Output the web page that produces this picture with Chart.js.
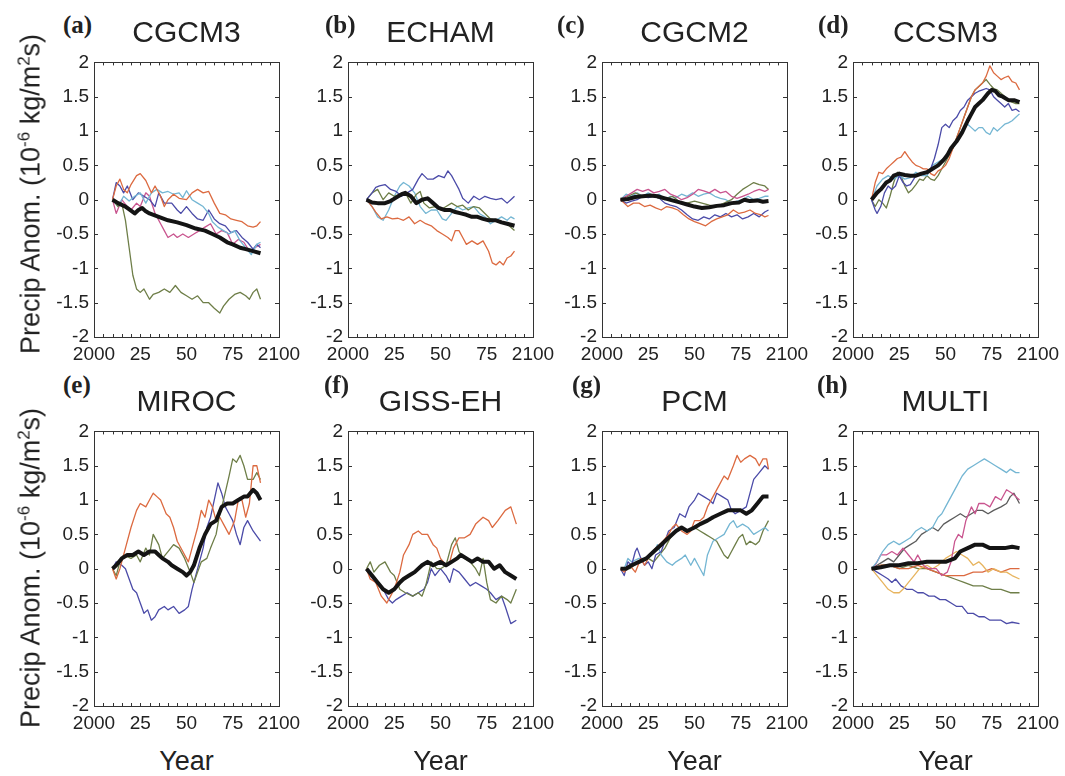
<!DOCTYPE html>
<html>
<head>
<meta charset="utf-8">
<script src="https://cdn.jsdelivr.net/npm/chart.js@4.4.1/dist/chart.umd.min.js"></script>
<style>
  html, body { margin: 0; padding: 0; background: #fff; }
  body { width: 1065px; height: 776px; position: relative; overflow: hidden; }
  canvas { position: absolute; }
  .txt { position: absolute; white-space: nowrap; color: #222; font-family: "Liberation Sans", Arial, sans-serif; }
  .title { font-size: 30px; line-height: 30px; text-align: center; width: 200px; }
  .letter { font-family: "Liberation Serif", "Times New Roman", serif; font-weight: bold; font-size: 25px; line-height: 25px; }
  .ylab { font-size: 27px; line-height: 27px; width: 340px; text-align: center; transform: translate(-50%, -50%) rotate(-90deg); }
  .ylab sup { font-size: 17px; vertical-align: 10px; line-height: 0; }
  .xlab { font-size: 27px; line-height: 27px; width: 120px; text-align: center; }
</style>
</head>
<body>
<script>
// ── series colours ──
const RED = "#dc6a40", BLUE = "#4b4ba8", CYAN = "#74b6d3", OLIVE = "#6e7e48",
      MAGENTA = "#c9558f", YELLOW = "#e7b45e", GRAY = "#5c5c5c", BLACK = "#141414";

// ── axis ticks ──
const xTicks = [2000, 2025, 2050, 2075, 2100];
const xTickLabels = ["2000", "25", "50", "75", "2100"];
const yTicks = [-2, -1.5, -1, -0.5, 0, 0.5, 1, 1.5, 2];

// ── (a) CGCM3 ──
const cgcm3Mean = [[2010,0],[2013,-0.05],[2017,-0.1],[2020,-0.16],[2022,-0.2],[2024,-0.15],[2026,-0.12],[2028,-0.17],[2030,-0.2],[2035,-0.25],[2040,-0.3],[2045,-0.33],[2050,-0.37],[2055,-0.42],[2060,-0.45],[2064,-0.5],[2068,-0.55],[2072,-0.62],[2075,-0.65],[2079,-0.7],[2082,-0.72],[2086,-0.75],[2090,-0.78]];
const cgcm3Olive = [[2010,0],[2013,-0.1],[2015,-0.05],[2017,-0.3],[2019,-0.7],[2021,-1.1],[2023,-1.3],[2025,-1.35],[2027,-1.3],[2030,-1.45],[2032,-1.38],[2035,-1.35],[2038,-1.3],[2041,-1.35],[2044,-1.25],[2047,-1.35],[2050,-1.4],[2053,-1.45],[2056,-1.4],[2059,-1.5],[2062,-1.5],[2065,-1.58],[2068,-1.65],[2070,-1.55],[2073,-1.45],[2076,-1.38],[2079,-1.35],[2082,-1.4],[2084,-1.45],[2086,-1.35],[2088,-1.3],[2090,-1.45]];
const cgcm3Red = [[2010,0],[2012,0.2],[2014,0.3],[2016,0.15],[2018,0.1],[2020,0.22],[2023,0.35],[2025,0.38],[2028,0.28],[2031,0.1],[2033,0.2],[2036,0.05],[2038,-0.1],[2040,0],[2043,0.08],[2046,0.02],[2050,0],[2053,0.1],[2056,0.15],[2059,0.1],[2062,0.12],[2065,-0.05],[2068,-0.2],[2071,-0.22],[2074,-0.28],[2077,-0.3],[2080,-0.32],[2083,-0.38],[2086,-0.4],[2088,-0.38],[2090,-0.32]];
const cgcm3Cyan = [[2010,0],[2013,-0.1],[2016,0.05],[2019,-0.02],[2022,0.05],[2025,0.1],[2028,-0.05],[2031,0.1],[2034,0.15],[2037,0.1],[2040,0.12],[2043,0.08],[2046,0.1],[2048,0.03],[2050,0.13],[2053,0],[2056,-0.05],[2059,-0.1],[2062,-0.2],[2064,-0.32],[2067,-0.4],[2070,-0.45],[2073,-0.5],[2076,-0.45],[2079,-0.6],[2082,-0.7],[2085,-0.8],[2088,-0.65],[2090,-0.62]];
const cgcm3Blue = [[2010,0],[2012,0.25],[2014,0.2],[2016,0.1],[2018,0.2],[2021,0],[2024,0.1],[2027,0.05],[2030,0],[2033,-0.1],[2035,0.1],[2038,-0.05],[2042,-0.05],[2045,-0.15],[2047,-0.2],[2050,-0.1],[2053,-0.2],[2056,-0.28],[2059,-0.3],[2062,-0.15],[2065,-0.28],[2068,-0.35],[2071,-0.38],[2074,-0.48],[2077,-0.45],[2080,-0.55],[2083,-0.62],[2086,-0.72],[2088,-0.65],[2090,-0.7]];
const cgcm3Magenta = [[2010,0],[2012,-0.2],[2015,0],[2018,-0.1],[2020,-0.15],[2023,-0.05],[2025,-0.1],[2028,0.1],[2030,0.05],[2033,-0.2],[2036,-0.35],[2038,-0.45],[2040,-0.55],[2043,-0.5],[2045,-0.55],[2048,-0.5],[2051,-0.55],[2054,-0.5],[2057,-0.45],[2060,-0.4],[2063,-0.35],[2066,-0.5],[2069,-0.45],[2072,-0.48],[2075,-0.65],[2078,-0.58],[2081,-0.62],[2084,-0.75],[2087,-0.7],[2090,-0.65]];

// ── (b) ECHAM ──
const echamMean = [[2010,0],[2013,-0.04],[2016,-0.05],[2020,-0.05],[2023,-0.02],[2026,0.03],[2029,0.08],[2031,0.1],[2034,0.05],[2037,-0.05],[2040,0],[2043,0.02],[2046,-0.05],[2049,-0.12],[2052,-0.15],[2055,-0.15],[2058,-0.18],[2061,-0.2],[2064,-0.22],[2067,-0.25],[2070,-0.25],[2073,-0.28],[2076,-0.3],[2080,-0.3],[2083,-0.33],[2086,-0.35],[2090,-0.38]];
const echamBlue = [[2010,0],[2013,0.1],[2015,0.18],[2017,0.2],[2020,0.22],[2023,0.15],[2026,0.12],[2029,0.05],[2032,0.1],[2035,0.15],[2038,0.3],[2040,0.38],[2043,0.3],[2046,0.3],[2049,0.35],[2052,0.32],[2054,0.42],[2056,0.35],[2058,0.25],[2060,0.15],[2062,0.02],[2065,-0.05],[2068,0.05],[2071,0],[2074,0.05],[2077,0.02],[2080,0],[2083,0.02],[2086,-0.05],[2088,0],[2090,0.05]];
const echamRed = [[2010,0],[2013,-0.1],[2015,-0.18],[2018,-0.28],[2021,-0.25],[2024,-0.28],[2027,-0.27],[2030,-0.3],[2033,-0.25],[2036,-0.35],[2039,-0.3],[2042,-0.35],[2045,-0.38],[2048,-0.45],[2051,-0.5],[2054,-0.55],[2056,-0.6],[2058,-0.45],[2060,-0.45],[2062,-0.55],[2064,-0.65],[2067,-0.6],[2070,-0.65],[2073,-0.6],[2076,-0.75],[2078,-0.92],[2080,-0.95],[2082,-0.9],[2084,-0.95],[2086,-0.85],[2088,-0.82],[2090,-0.75]];
const echamOlive = [[2010,0],[2013,0.1],[2016,0.15],[2019,0],[2022,0.1],[2025,0.05],[2028,0.08],[2031,0.1],[2034,-0.05],[2037,0.08],[2039,0.12],[2041,-0.05],[2044,-0.12],[2047,-0.1],[2050,-0.15],[2053,-0.1],[2056,-0.05],[2059,-0.1],[2062,-0.08],[2065,-0.15],[2068,-0.1],[2071,-0.12],[2074,-0.2],[2077,-0.28],[2080,-0.3],[2083,-0.32],[2086,-0.35],[2088,-0.4],[2090,-0.45]];
const echamCyan = [[2010,0],[2013,-0.1],[2016,-0.25],[2019,-0.3],[2022,-0.15],[2025,0.05],[2028,0.2],[2030,0.25],[2033,0.2],[2036,0.1],[2039,-0.1],[2042,-0.2],[2045,-0.15],[2048,-0.15],[2051,-0.28],[2053,-0.3],[2056,-0.2],[2059,-0.1],[2062,-0.15],[2065,-0.12],[2068,-0.1],[2071,-0.2],[2074,-0.25],[2077,-0.35],[2080,-0.3],[2083,-0.25],[2086,-0.3],[2088,-0.25],[2090,-0.28]];

// ── (c) CGCM2 ──
const cgcm2Mean = [[2010,0],[2014,0.01],[2018,0.04],[2022,0.05],[2026,0.06],[2030,0.05],[2034,0.02],[2038,-0.01],[2042,-0.04],[2046,-0.07],[2050,-0.1],[2054,-0.12],[2058,-0.11],[2062,-0.09],[2066,-0.08],[2070,-0.05],[2074,-0.04],[2077,0],[2080,-0.02],[2084,-0.01],[2087,-0.03],[2090,-0.02]];
const cgcm2Magenta = [[2010,0],[2013,0.05],[2016,0.1],[2019,0.15],[2022,0.12],[2025,0.15],[2028,0.1],[2031,0.12],[2034,0.15],[2037,0.08],[2040,0.05],[2043,0],[2046,0.03],[2049,0.08],[2052,0.15],[2055,0.13],[2058,0.1],[2061,0.15],[2064,0.1],[2067,0.12],[2070,0.05],[2073,0.02],[2076,0.05],[2079,0.08],[2082,0.12],[2085,0.15],[2088,0.12],[2090,0.15]];
const cgcm2Olive = [[2010,0],[2014,0.05],[2018,0.1],[2022,0.05],[2026,0.07],[2030,0.03],[2034,0],[2038,0.05],[2042,-0.03],[2046,-0.05],[2050,-0.02],[2054,-0.05],[2058,-0.08],[2062,-0.1],[2066,-0.05],[2070,0],[2073,0.08],[2076,0.15],[2079,0.2],[2082,0.25],[2085,0.22],[2088,0.2],[2090,0.15]];
const cgcm2Cyan = [[2010,0],[2013,0.08],[2016,0.05],[2019,0.1],[2022,0.05],[2025,0.1],[2028,0.05],[2031,0.08],[2034,0],[2037,0.05],[2040,0.03],[2043,0.08],[2046,0.05],[2049,0.1],[2052,0.05],[2055,0.08],[2058,0.1],[2061,0.05],[2064,0.02],[2067,0],[2070,-0.05],[2073,-0.02],[2076,0],[2079,0.05],[2082,0],[2085,0.02],[2088,0.05],[2090,0.05]];
const cgcm2Red = [[2010,0],[2012,-0.05],[2014,-0.1],[2017,-0.05],[2020,-0.05],[2023,-0.1],[2026,-0.08],[2029,-0.12],[2032,-0.15],[2035,-0.1],[2038,-0.12],[2041,-0.15],[2044,-0.22],[2047,-0.28],[2050,-0.32],[2053,-0.35],[2056,-0.38],[2059,-0.32],[2062,-0.28],[2065,-0.25],[2068,-0.22],[2071,-0.15],[2074,-0.2],[2077,-0.18],[2080,-0.15],[2083,-0.2],[2086,-0.22],[2088,-0.25],[2090,-0.23]];
const cgcm2Blue = [[2010,0],[2013,-0.05],[2016,-0.02],[2019,0],[2022,0.05],[2025,0.03],[2028,0.05],[2031,0.02],[2034,-0.05],[2037,-0.08],[2040,-0.1],[2043,-0.15],[2046,-0.22],[2049,-0.28],[2052,-0.3],[2055,-0.25],[2058,-0.28],[2061,-0.22],[2064,-0.25],[2067,-0.2],[2070,-0.25],[2073,-0.22],[2076,-0.28],[2079,-0.25],[2082,-0.2],[2085,-0.25],[2088,-0.18],[2090,-0.15]];

// ── (d) CCSM3 ──
const ccsm3Mean = [[2010,0],[2013,0.1],[2015,0.15],[2018,0.25],[2020,0.28],[2022,0.35],[2025,0.38],[2028,0.36],[2031,0.35],[2034,0.35],[2037,0.38],[2040,0.4],[2043,0.45],[2046,0.5],[2049,0.58],[2051,0.65],[2053,0.75],[2056,0.85],[2059,0.98],[2062,1.15],[2064,1.25],[2066,1.35],[2068,1.4],[2070,1.45],[2073,1.55],[2075,1.6],[2077,1.58],[2079,1.52],[2081,1.5],[2084,1.45],[2087,1.45],[2090,1.42]];
const ccsm3Red = [[2010,0],[2012,0.25],[2014,0.4],[2016,0.38],[2018,0.45],[2020,0.5],[2022,0.55],[2024,0.6],[2026,0.62],[2028,0.7],[2030,0.62],[2032,0.55],[2034,0.5],[2036,0.48],[2038,0.45],[2040,0.45],[2042,0.38],[2044,0.35],[2046,0.42],[2048,0.45],[2050,0.5],[2052,0.6],[2054,0.75],[2056,0.9],[2058,1.05],[2060,1.2],[2062,1.35],[2064,1.5],[2066,1.6],[2068,1.65],[2070,1.7],[2072,1.8],[2074,1.95],[2076,1.85],[2078,1.8],[2080,1.75],[2082,1.78],[2084,1.8],[2086,1.72],[2088,1.7],[2090,1.6]];
const ccsm3Blue = [[2010,0],[2012,-0.15],[2013,-0.2],[2015,-0.1],[2017,0.1],[2019,0.2],[2021,0.15],[2023,0.2],[2025,0.35],[2027,0.25],[2029,0.2],[2031,0.22],[2034,0.35],[2037,0.38],[2040,0.4],[2042,0.45],[2044,0.6],[2046,0.8],[2048,1.05],[2050,1.1],[2052,1.05],[2054,1.15],[2056,1.2],[2058,1.3],[2060,1.35],[2062,1.45],[2064,1.5],[2066,1.55],[2068,1.58],[2070,1.6],[2072,1.62],[2074,1.6],[2076,1.5],[2078,1.45],[2080,1.4],[2082,1.35],[2084,1.4],[2086,1.3],[2088,1.32],[2090,1.28]];
const ccsm3Cyan = [[2010,0],[2013,0.2],[2016,0.3],[2019,0.35],[2022,0.3],[2025,0.35],[2028,0.3],[2031,0.32],[2034,0.4],[2037,0.35],[2040,0.35],[2043,0.5],[2046,0.55],[2049,0.6],[2052,0.7],[2055,0.8],[2057,0.9],[2060,1.05],[2062,1.1],[2064,1.05],[2066,1],[2068,1.05],[2070,1.05],[2072,0.98],[2074,0.95],[2076,1.05],[2078,1],[2080,1.05],[2082,1.1],[2084,1.12],[2086,1.15],[2088,1.2],[2090,1.25]];
const ccsm3Olive = [[2010,0],[2012,-0.1],[2014,0],[2016,-0.05],[2018,-0.12],[2020,0.05],[2022,0.25],[2024,0.4],[2026,0.35],[2028,0.2],[2030,0.1],[2032,0.15],[2034,0.22],[2036,0.3],[2038,0.28],[2040,0.35],[2042,0.3],[2044,0.28],[2046,0.35],[2048,0.45],[2050,0.55],[2052,0.65],[2054,0.75],[2056,0.9],[2058,1.05],[2060,1.2],[2062,1.35],[2064,1.5],[2066,1.6],[2068,1.65],[2070,1.7],[2072,1.75],[2074,1.68],[2076,1.62],[2078,1.6],[2080,1.55],[2082,1.5],[2084,1.45],[2086,1.42],[2088,1.4],[2090,1.4]];

// ── (e) MIROC ──
const mirocMean = [[2010,0],[2012,0.05],[2015,0.15],[2018,0.2],[2021,0.2],[2024,0.25],[2027,0.2],[2030,0.25],[2033,0.25],[2035,0.2],[2037,0.15],[2040,0.1],[2042,0.05],[2045,0],[2048,-0.05],[2050,-0.1],[2052,-0.05],[2054,0.05],[2057,0.3],[2060,0.5],[2063,0.65],[2066,0.7],[2069,0.9],[2072,0.95],[2075,0.95],[2078,1],[2081,1.05],[2083,1.05],[2086,1.15],[2088,1.1],[2090,1]];
const mirocRed = [[2010,0],[2012,-0.15],[2014,0],[2017,0.3],[2020,0.6],[2023,0.85],[2025,0.95],[2028,0.9],[2030,1],[2032,1.1],[2034,1.05],[2036,1],[2039,0.8],[2041,0.75],[2043,0.6],[2045,0.4],[2048,0.25],[2051,0.1],[2053,0.3],[2056,0.6],[2058,0.85],[2060,0.75],[2062,1],[2064,0.9],[2066,0.7],[2068,0.75],[2070,0.65],[2073,0.5],[2076,0.7],[2078,1],[2080,1],[2082,0.75],[2084,0.95],[2086,1.5],[2088,1.5],[2090,1.25]];
const mirocOlive = [[2010,0],[2012,-0.1],[2014,0.1],[2016,0.2],[2020,0.15],[2023,0.2],[2025,0.1],[2028,0.3],[2030,0.2],[2032,0.5],[2035,0.35],[2037,0.15],[2040,0.25],[2043,0.35],[2046,0.3],[2049,0.15],[2052,-0.05],[2054,-0.2],[2056,-0.05],[2058,0.1],[2061,0.15],[2063,0.3],[2066,0.5],[2068,0.8],[2070,1],[2073,1.35],[2075,1.6],[2077,1.55],[2079,1.65],[2081,1.5],[2083,1.3],[2086,1.3],[2088,1.4],[2090,1.3]];
const mirocBlue = [[2010,0],[2012,0.1],[2015,0.05],[2017,0],[2019,-0.15],[2021,-0.3],[2023,-0.35],[2025,-0.5],[2027,-0.65],[2029,-0.6],[2031,-0.75],[2033,-0.7],[2035,-0.6],[2038,-0.55],[2040,-0.6],[2043,-0.55],[2046,-0.65],[2049,-0.6],[2051,-0.55],[2053,-0.3],[2055,-0.1],[2057,0.1],[2059,0.3],[2061,0.6],[2063,0.75],[2065,1],[2067,1.25],[2069,1.1],[2071,0.9],[2073,0.8],[2075,0.7],[2077,0.5],[2079,0.35],[2081,0.6],[2083,0.7],[2086,0.55],[2090,0.4]];

// ── (f) GISS-EH ──
const gissMean = [[2010,0],[2013,-0.1],[2016,-0.2],[2019,-0.3],[2022,-0.35],[2025,-0.3],[2028,-0.2],[2030,-0.15],[2033,-0.1],[2036,-0.05],[2040,0.05],[2043,0.1],[2046,0.05],[2050,0.1],[2053,0.05],[2056,0.1],[2059,0.15],[2061,0.2],[2064,0.15],[2067,0.1],[2070,0.15],[2073,0.1],[2076,0.1],[2079,0],[2082,0.05],[2085,-0.05],[2088,-0.1],[2091,-0.15]];
const gissRed = [[2010,0],[2012,-0.15],[2015,-0.2],[2018,-0.4],[2021,-0.5],[2023,-0.4],[2025,-0.3],[2028,-0.05],[2030,0.2],[2033,0.35],[2035,0.5],[2038,0.55],[2040,0.5],[2043,0.5],[2046,0.35],[2048,0.3],[2050,0.15],[2053,0.05],[2055,0.1],[2057,0.3],[2060,0.45],[2063,0.45],[2066,0.5],[2069,0.65],[2073,0.75],[2076,0.7],[2078,0.6],[2081,0.7],[2085,0.85],[2088,0.9],[2091,0.65]];
const gissOlive = [[2010,0],[2012,0.1],[2014,-0.05],[2017,0.05],[2020,0.1],[2023,-0.05],[2025,-0.1],[2028,-0.3],[2031,-0.35],[2035,-0.4],[2038,-0.35],[2040,-0.4],[2042,-0.25],[2045,0.1],[2048,0],[2050,0],[2053,0.05],[2056,0.35],[2058,0.45],[2060,0.25],[2063,0.15],[2066,0.1],[2069,0],[2071,-0.1],[2073,0.15],[2075,-0.2],[2077,-0.45],[2080,-0.5],[2083,-0.4],[2086,-0.45],[2088,-0.5],[2091,-0.3]];
const gissBlue = [[2010,0],[2012,-0.1],[2015,-0.2],[2018,-0.25],[2020,-0.35],[2022,-0.45],[2024,-0.5],[2026,-0.45],[2029,-0.4],[2032,-0.35],[2035,-0.4],[2038,-0.35],[2041,-0.3],[2043,-0.2],[2045,0],[2047,-0.1],[2050,0],[2053,-0.1],[2055,-0.2],[2057,0],[2060,-0.05],[2063,-0.15],[2066,-0.25],[2069,-0.2],[2072,-0.25],[2075,-0.3],[2077,-0.35],[2080,-0.45],[2083,-0.4],[2085,-0.55],[2088,-0.8],[2091,-0.75]];

// ── (g) PCM ──
const pcmMean = [[2010,0],[2013,0],[2016,0.05],[2020,0.1],[2024,0.15],[2028,0.25],[2032,0.35],[2036,0.45],[2040,0.55],[2043,0.6],[2046,0.55],[2050,0.6],[2053,0.65],[2057,0.7],[2060,0.75],[2064,0.8],[2068,0.85],[2072,0.85],[2075,0.85],[2078,0.8],[2081,0.85],[2084,0.95],[2087,1.05],[2090,1.05]];
const pcmRed = [[2010,0],[2012,-0.05],[2015,0.05],[2018,-0.05],[2021,0.15],[2023,0.05],[2026,0.2],[2029,0.3],[2031,0.35],[2033,0.4],[2036,0.5],[2038,0.6],[2040,0.65],[2043,0.55],[2046,0.5],[2048,0.55],[2050,0.7],[2053,0.7],[2055,0.75],[2057,0.9],[2060,1.05],[2063,1.2],[2066,1.35],[2068,1.3],[2071,1.5],[2073,1.65],[2075,1.55],[2077,1.6],[2080,1.65],[2083,1.6],[2085,1.5],[2087,1.6],[2089,1.6],[2090,1.45]];
const pcmBlue = [[2010,0],[2012,-0.1],[2014,0.1],[2016,0.05],[2018,0.25],[2019,0.3],[2021,0.15],[2023,0.05],[2025,0.1],[2027,0],[2029,0.2],[2032,0.25],[2034,0.4],[2036,0.55],[2039,0.6],[2042,0.8],[2045,0.75],[2047,0.9],[2050,1],[2052,1.1],[2055,1.05],[2058,1],[2060,0.95],[2062,1.1],[2065,1.05],[2068,1],[2070,0.85],[2072,0.8],[2075,0.85],[2078,0.9],[2080,1.1],[2082,1.3],[2085,1.4],[2088,1.5],[2090,1.45]];
const pcmCyan = [[2010,0],[2012,0],[2014,0.15],[2016,0.1],[2020,0.15],[2025,0.15],[2028,0.25],[2030,0.35],[2032,0.2],[2035,0.1],[2038,0.05],[2040,0.1],[2043,0.15],[2045,0.2],[2048,0.05],[2050,0.15],[2052,0.05],[2055,-0.1],[2057,0.2],[2060,0.4],[2063,0.45],[2066,0.5],[2069,0.65],[2071,0.7],[2073,0.6],[2076,0.65],[2079,0.6],[2082,0.5],[2085,0.55],[2088,0.6],[2090,0.55]];
const pcmOlive = [[2010,0],[2015,0],[2020,0.1],[2025,0.15],[2028,0.1],[2031,0.2],[2034,0.3],[2037,0.45],[2040,0.55],[2043,0.6],[2046,0.55],[2050,0.6],[2053,0.55],[2056,0.5],[2059,0.45],[2062,0.4],[2064,0.3],[2066,0.2],[2068,0.15],[2070,0.25],[2072,0.35],[2074,0.45],[2076,0.5],[2078,0.35],[2080,0.4],[2083,0.35],[2085,0.4],[2087,0.55],[2090,0.7]];

// ── (h) MULTI ──
const multiMean = [[2010,0],[2015,0.02],[2020,0.05],[2025,0.05],[2030,0.08],[2035,0.08],[2040,0.1],[2045,0.1],[2050,0.1],[2055,0.15],[2058,0.25],[2062,0.3],[2066,0.35],[2070,0.35],[2074,0.3],[2078,0.3],[2082,0.3],[2086,0.32],[2090,0.3]];
const multiCyan = [[2010,0],[2013,0.1],[2016,0.25],[2019,0.35],[2022,0.4],[2025,0.35],[2028,0.4],[2031,0.45],[2034,0.55],[2037,0.6],[2040,0.55],[2043,0.6],[2046,0.75],[2048,0.8],[2050,0.9],[2053,1.05],[2056,1.2],[2059,1.35],[2062,1.45],[2065,1.5],[2068,1.55],[2071,1.6],[2074,1.55],[2077,1.5],[2080,1.45],[2083,1.4],[2085,1.45],[2088,1.4],[2090,1.4]];
const multiMagenta = [[2010,0],[2012,0.05],[2015,0.2],[2018,0.2],[2021,0.25],[2024,0.2],[2027,0.3],[2030,0.2],[2033,0.1],[2035,0.2],[2038,0.05],[2041,0],[2045,0],[2048,-0.1],[2051,-0.05],[2053,0.1],[2055,0.4],[2057,0.5],[2059,0.45],[2061,0.7],[2064,0.9],[2066,0.8],[2068,0.95],[2071,0.95],[2074,0.9],[2077,1.05],[2080,1],[2083,1.15],[2086,1.1],[2088,1.05],[2090,1]];
const multiGray = [[2010,0],[2013,0.05],[2016,0.1],[2019,0.15],[2022,0.1],[2025,0.2],[2028,0.3],[2031,0.35],[2034,0.4],[2037,0.5],[2040,0.55],[2043,0.6],[2046,0.55],[2049,0.65],[2052,0.7],[2055,0.75],[2058,0.8],[2061,0.75],[2064,0.8],[2067,0.85],[2070,0.85],[2073,0.8],[2076,0.85],[2080,0.9],[2083,0.95],[2085,1.05],[2087,1.1],[2090,0.95]];
const multiYellow = [[2010,0],[2013,-0.1],[2016,-0.2],[2019,-0.3],[2022,-0.35],[2025,-0.35],[2027,-0.3],[2030,-0.2],[2033,-0.1],[2036,0],[2040,0.05],[2043,0],[2046,0.05],[2050,0.15],[2053,0.2],[2056,0.25],[2059,0.2],[2062,0.15],[2065,0.05],[2068,0.1],[2070,0.05],[2073,-0.05],[2076,0],[2080,-0.05],[2083,-0.05],[2086,-0.1],[2090,-0.15]];
const multiRed = [[2010,0],[2015,0.05],[2020,0.05],[2025,0],[2030,0],[2035,0.05],[2040,0],[2045,-0.05],[2050,-0.1],[2055,-0.1],[2060,-0.1],[2065,-0.05],[2070,-0.05],[2075,0],[2080,-0.05],[2085,0],[2090,0]];
const multiOlive = [[2010,0],[2015,0.05],[2020,0.05],[2025,0],[2030,0.05],[2035,0],[2040,0],[2045,-0.05],[2050,-0.1],[2055,-0.15],[2060,-0.2],[2065,-0.25],[2070,-0.25],[2075,-0.3],[2080,-0.3],[2085,-0.35],[2090,-0.35]];
const multiBlue = [[2010,0],[2013,-0.05],[2016,-0.1],[2019,-0.15],[2021,-0.2],[2023,-0.15],[2026,-0.25],[2029,-0.3],[2032,-0.3],[2035,-0.35],[2038,-0.35],[2041,-0.4],[2044,-0.4],[2047,-0.45],[2050,-0.45],[2053,-0.5],[2056,-0.55],[2059,-0.55],[2062,-0.65],[2065,-0.65],[2068,-0.7],[2071,-0.7],[2074,-0.75],[2077,-0.75],[2080,-0.75],[2083,-0.8],[2086,-0.78],[2090,-0.8]];

// ── layout ──
const plotLefts = [94, 348, 602, 853];
const plotTops  = [61, 430];
const plotW = 185, plotH = 276;
const M_LEFT = 70, M_TOP = 15, M_RIGHT = 30, M_BOTTOM = 32;

const panels = [
  { tag: "(a)", name: "CGCM3",   col: 0, row: 0, tagX: 63,  mean: cgcm3Mean, runs: [[cgcm3Olive, OLIVE], [cgcm3Red, RED], [cgcm3Cyan, CYAN], [cgcm3Blue, BLUE], [cgcm3Magenta, MAGENTA]] },
  { tag: "(b)", name: "ECHAM",   col: 1, row: 0, tagX: 325, mean: echamMean, runs: [[echamBlue, BLUE], [echamRed, RED], [echamOlive, OLIVE], [echamCyan, CYAN]] },
  { tag: "(c)", name: "CGCM2",   col: 2, row: 0, tagX: 557, mean: cgcm2Mean, runs: [[cgcm2Magenta, MAGENTA], [cgcm2Olive, OLIVE], [cgcm2Cyan, CYAN], [cgcm2Red, RED], [cgcm2Blue, BLUE]] },
  { tag: "(d)", name: "CCSM3",   col: 3, row: 0, tagX: 818, mean: ccsm3Mean, runs: [[ccsm3Red, RED], [ccsm3Blue, BLUE], [ccsm3Cyan, CYAN], [ccsm3Olive, OLIVE]] },
  { tag: "(e)", name: "MIROC",   col: 0, row: 1, tagX: 63,  mean: mirocMean, runs: [[mirocRed, RED], [mirocOlive, OLIVE], [mirocBlue, BLUE]] },
  { tag: "(f)", name: "GISS-EH", col: 1, row: 1, tagX: 324, mean: gissMean,  runs: [[gissRed, RED], [gissOlive, OLIVE], [gissBlue, BLUE]] },
  { tag: "(g)", name: "PCM",     col: 2, row: 1, tagX: 572, mean: pcmMean,   runs: [[pcmRed, RED], [pcmBlue, BLUE], [pcmCyan, CYAN], [pcmOlive, OLIVE]] },
  { tag: "(h)", name: "MULTI",   col: 3, row: 1, tagX: 817, mean: multiMean, runs: [[multiCyan, CYAN], [multiMagenta, MAGENTA], [multiGray, GRAY], [multiYellow, YELLOW], [multiRed, RED], [multiOlive, OLIVE], [multiBlue, BLUE]] },
];

// draws the MATLAB-like box with inward ticks
const frameTicks = {
  id: "frameTicks",
  afterDatasetsDraw(chart) {
    const { ctx, chartArea: a, scales } = chart;
    ctx.save();
    ctx.strokeStyle = "#333";
    ctx.lineWidth = 1;
    ctx.strokeRect(Math.round(a.left) + 0.5, Math.round(a.top) + 0.5,
                   Math.round(a.right - a.left), Math.round(a.bottom - a.top));
    ctx.beginPath();
    for (let yr = 2005; yr < 2100; yr += 5) {
      const x = Math.round(scales.x.getPixelForValue(yr)) + 0.5;
      ctx.moveTo(x, a.bottom); ctx.lineTo(x, a.bottom - 3);
      ctx.moveTo(x, a.top);    ctx.lineTo(x, a.top + 3);
    }
    yTicks.slice(1, -1).forEach(v => {
      const y = Math.round(scales.y.getPixelForValue(v)) + 0.5;
      ctx.moveTo(a.left, y);  ctx.lineTo(a.left + 4, y);
      ctx.moveTo(a.right, y); ctx.lineTo(a.right - 4, y);
    });
    ctx.stroke();
    ctx.restore();
  }
};

const tickFont = { family: "'Liberation Sans', Arial, sans-serif", size: 19 };

function addText(cls, html, left, top) {
  const d = document.createElement("div");
  d.className = "txt " + cls;
  d.innerHTML = html;
  d.style.left = left + "px";
  d.style.top = top + "px";
  document.body.appendChild(d);
  return d;
}

panels.forEach(p => {
  const pl = plotLefts[p.col], pt = plotTops[p.row];
  const cv = document.createElement("canvas");
  cv.width = M_LEFT + plotW + M_RIGHT;
  cv.height = M_TOP + plotH + M_BOTTOM;
  cv.style.left = (pl - M_LEFT) + "px";
  cv.style.top = (pt - M_TOP) + "px";
  document.body.appendChild(cv);

  // mean first so it is painted on top
  const datasets = [{ data: p.mean.map(([x, y]) => ({ x, y })), borderColor: BLACK, borderWidth: 4 }]
    .concat(p.runs.map(([d, c]) => ({ data: d.map(([x, y]) => ({ x, y })), borderColor: c, borderWidth: 1.3 })));

  new Chart(cv, {
    type: "line",
    data: { datasets: datasets.map(ds => Object.assign(ds, { pointRadius: 0, fill: false, tension: 0, borderJoinStyle: "round" })) },
    options: {
      responsive: false,
      animation: false,
      devicePixelRatio: 1,
      layout: { padding: { left: 0, top: M_TOP, right: M_RIGHT, bottom: 0 } },
      plugins: { legend: { display: false }, tooltip: { enabled: false } },
      scales: {
        x: {
          type: "linear", min: 2000, max: 2100,
          afterBuildTicks: s => { s.ticks = xTicks.map(v => ({ value: v })); },
          afterFit: s => { s.height = M_BOTTOM; },
          ticks: { autoSkip: false, maxRotation: 0, padding: 6, color: "#222", font: tickFont,
                   callback: v => xTickLabels[xTicks.indexOf(v)] },
          grid: { display: false, drawTicks: false },
          border: { display: false },
        },
        y: {
          min: -2, max: 2,
          afterBuildTicks: s => { s.ticks = yTicks.map(v => ({ value: v })); },
          afterFit: s => { s.width = M_LEFT; },
          ticks: { padding: 5, color: "#222", font: tickFont, callback: v => String(v) },
          grid: { display: false, drawTicks: false },
          border: { display: false },
        },
      },
    },
    plugins: [frameTicks],
  });

  // panel texts
  const rowShift = p.row === 0 ? 0 : 369;
  addText("letter", p.tag, p.tagX, 12 + rowShift - (p.row ? 9 : 0));
  addText("title", p.name, pl + plotW / 2 - 100, 16.6 + rowShift);
  if (p.col === 0) {
    const yl = addText("ylab", "Precip Anom. (10<sup>-6</sup> kg/m<sup>2</sup>s)", 31, p.row === 0 ? 194 : 568);
  }
  if (p.row === 1) addText("xlab", "Year", pl + plotW / 2 - 60, 748);
});
</script>
</body>
</html>
